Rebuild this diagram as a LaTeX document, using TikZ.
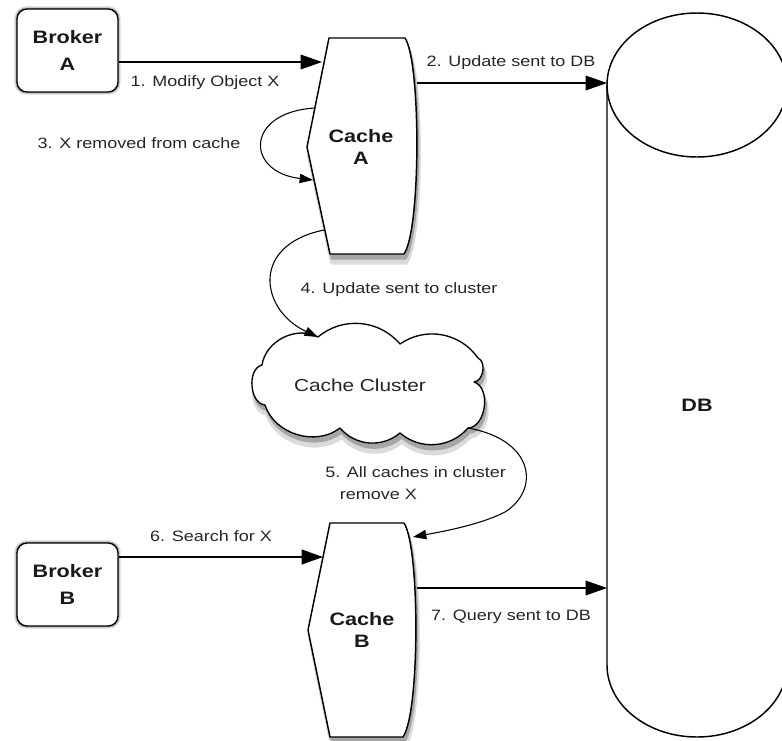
\documentclass[tikz,border=0pt]{standalone}
\usepackage{fontspec}
\setmainfont{Liberation Sans}[FakeStretch=1.2]
\usetikzlibrary{arrows.meta,backgrounds}

\begin{document}
\begin{tikzpicture}[x=0.75pt,y=-0.75pt,
  lbl/.style={font=\fontsize{11.25}{13}\selectfont, text=black!85, inner sep=0pt},
  boldtxt/.style={font=\fontsize{13.5}{20}\selectfont\bfseries, text=black!90, align=center},
  cachetxt/.style={font=\fontsize{13.5}{17}\selectfont\bfseries, text=black!90, align=center},
  broker/.style={boldtxt, draw, line width=1pt, fill=white, rounded corners=7.5pt,
    minimum width=75.75pt, minimum height=62.25pt},
  outline/.style={draw, line width=1.1pt, fill=white, line join=round},
  shadA/.style={fill=black!14, draw=black!14, line width=3pt, line join=round, xshift=1.5pt, yshift=-6.5pt},
  shadB/.style={fill=black!35, draw=black!35, line width=1pt, line join=round, xshift=1.2pt, yshift=-3.8pt},
  arr/.style={line width=0.8pt, -{Triangle[length=16pt,width=11pt]}},
  carr/.style={line width=0.8pt, -{Triangle[length=10pt,width=7pt]}},
]
\begin{scope}[on background layer]
  \fill[white] (0,0) rectangle (782,740);
\end{scope}
\useasboundingbox (0,0) rectangle (782,740);
\clip (0,0) rectangle (782,740);

\def\cacheApath{(329,38) -- (405,38) .. controls (421,62) and (421,230) .. (404,254) -- (330,254) -- (307,147) -- cycle}
\def\cacheBpath{(330,523) -- (404,523) .. controls (420,547) and (420,713) .. (403,737) -- (330,737) -- (308,630) -- cycle}
\def\cloudpath{(318,337) to[bend left=45] (400,344) to[bend left=45] (478,358)
  to[bend left=75] (474,382) to[bend left=80] (468,428) to[bend left=45] (400,433)
  to[bend left=45] (340,428) to[bend left=55] (265,405) to[bend left=80] (262,365)
  to[bend left=55] (318,337) -- cycle}

% DB cylinder
\path[outline] (607,85) -- (607,665)
  .. controls (607,704.8) and (647.3,737) .. (697,737)
  .. controls (746.7,737) and (787,704.8) .. (787,665) -- (787,85) -- cycle;
\draw[outline] (697,85) ellipse [x radius=67.5pt, y radius=54pt];
\node[boldtxt] (db) at (697,405) {DB};
\coordinate (db2) at (607,83);
\coordinate (db7) at (607,588);

% Brokers
\node[broker] (bA) at (67.5,50.5) {Broker\\A};
\node[broker] (bB) at (67.5,584.5) {Broker\\B};

% Cache A
\path[shadA] \cacheApath;
\path[shadB] \cacheApath;
\path[outline] \cacheApath;
\node[cachetxt] (cA) at (361,147) {Cache\\A};

% Cache B
\path[shadA] \cacheBpath;
\path[shadB] \cacheBpath;
\path[outline] \cacheBpath;
\node[cachetxt] (cB) at (362,630) {Cache\\B};

% Cloud
\path[shadA] \cloudpath;
\path[shadB] \cloudpath;
\path[outline, line width=1pt] \cloudpath;
\node[font=\fontsize{13}{15}\selectfont, text=black!85] (cl) at (360,385) {Cache Cluster};

% Broker shadows (behind)
\begin{scope}[on background layer]
  \foreach \b in {bA,bB}{
    \path[shadA, rounded corners=7.5pt] (\b.south west) rectangle (\b.north east);
    \path[shadB, rounded corners=7.5pt] (\b.south west) rectangle (\b.north east);
  }
\end{scope}

% Connectors
\coordinate (a1) at (322,62);
\draw[arr] (bA.east |- a1) -- (a1);
\coordinate (a2) at (417,83);
\draw[arr] (a2) -- (db2);
\coordinate (a3s) at (315,108);
\coordinate (a3e) at (313,180);
\draw[carr] (a3s) .. controls (245,112) and (245,172) .. (a3e);
\coordinate (a4s) at (324,230);
\coordinate (a4e) at (318,337);
\draw[carr] (a4s) .. controls (250,245) and (260,310) .. (a4e);
\coordinate (a5s) at (468,428);
\coordinate (a5m) at (505,512);
\coordinate (a5e) at (413,537);
\draw[carr] (a5s) .. controls (535,440) and (540,490) .. (a5m) .. controls (480,525) and (440,532) .. (a5e);
\coordinate (a6) at (323,557);
\draw[arr, line width=1.6pt] (bB.east |- a6) -- (a6);
\coordinate (a7) at (417,588);
\draw[arr] (a7) -- (db7);

% Labels
\node[lbl] (l1) at (205,83) {1. Modify Object X};
\node[lbl] (l2) at (511,63) {2. Update sent to DB};
\node[lbl] (l3) at (139,143) {3. X removed from cache};
\node[lbl] (l4) at (399,290) {4. Update sent to cluster};
\node[lbl, anchor=west, align=left, font=\fontsize{11.25}{17}\selectfont] (l5) at (325,483) {5. All caches in cluster\\\hspace*{11pt}remove X};
\node[lbl] (l6) at (211,536) {6. Search for X};
\node[lbl] (l7) at (511,617) {7. Query sent to DB};
\end{tikzpicture}
\end{document}
